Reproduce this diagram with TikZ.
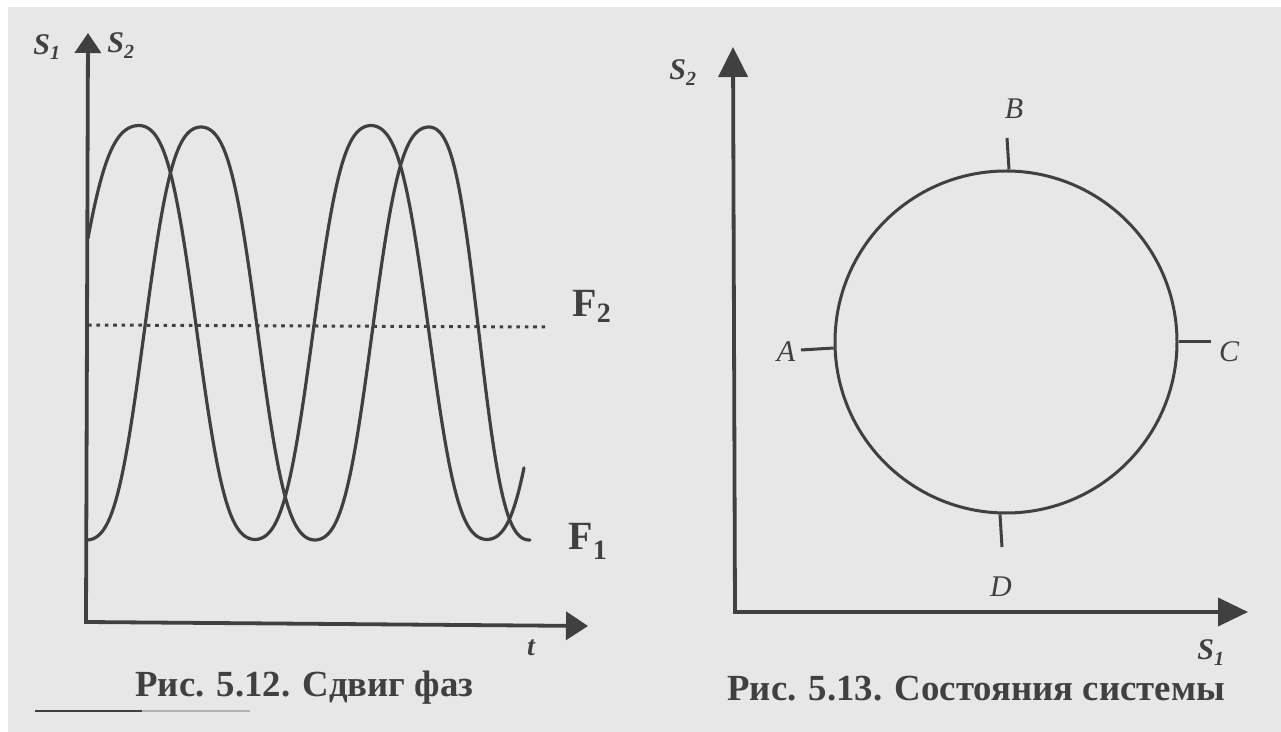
\documentclass[tikz,border=0pt]{standalone}
\usepackage{fontspec}
\setmainfont{Liberation Serif}
\usetikzlibrary{arrows.meta}
\definecolor{ink}{RGB}{64,64,64}
\definecolor{paper}{RGB}{231,231,231}
\begin{document}
\begin{tikzpicture}[x=0.5pt,y=-0.5pt,
  declare function={wv(\t)=(cos(\t)-0.07*cos(3*\t))/0.93;},
  axis/.style={draw=ink, line width=1.9pt, line join=miter},
  curve/.style={draw=ink, line width=1.6pt, line join=round, line cap=round},
  tick/.style={draw=ink, line width=1.5pt},
  lbl/.style={inner sep=0pt, text=ink},
  capt/.style={lbl, anchor=base west, font=\fontsize{18.4}{22}\selectfont\bfseries},
  flbl/.style={lbl, anchor=base west, font=\fontsize{20}{22}\selectfont\bfseries},
  slbl/.style={lbl, anchor=base west, font=\fontsize{15}{18}\selectfont\bfseries\itshape},
  plbl/.style={lbl, font=\fontsize{15}{18}\selectfont\itshape}]
\useasboundingbox (0,0) rectangle (1281,732);
\fill[white] (0,0) rectangle (1281,732);
\fill[paper] (8,7) rectangle (1281,732);

% ---------- left figure: phase shift ----------
\coordinate (O1) at (86,622);
\coordinate (Y1) at (88,33);
\coordinate (X1) at (588,626);
\draw[axis, {Triangle[length=10pt,width=13pt]}-{Triangle[length=11pt,width=14pt]}] (Y1) -- (O1) -- (X1);

\coordinate (L1) at (88,325);
\coordinate (L2) at (545,327);
\draw[ink, line width=1.5pt, dash pattern=on 1.8pt off 2.4pt] (L1) -- (L2);

% curve 1
\draw[curve] plot[domain=88:139, samples=40] (\x, {332.5-207*wv(1.35*(\x-139))})
  -- plot[domain=139:524, samples=200] (\x, {332.5-207*wv((\x-139)/232*360)});
% curve 2
\draw[curve] plot[domain=88:429, samples=200] (\x, {333.5+206.5*wv((\x-87)/228*360)})
  -- plot[domain=429:530, samples=60] (\x, {333.5+206.5*wv(540+(\x-429)/100*180)});

\node[slbl] (S1a) at (33,55) {S\raisebox{-2.5pt}{\fontsize{10}{10}\selectfont 1}};
\node[slbl] (S2a) at (107,53) {S\raisebox{-3pt}{\fontsize{10}{10}\selectfont 2}};
\node[flbl] (F2) at (572,317) {F\raisebox{-3pt}{\fontsize{14}{14}\selectfont 2}};
\node[flbl] (F1) at (568,550) {F\raisebox{-5pt}{\fontsize{14}{14}\selectfont 1}};
\node[lbl, font=\fontsize{14}{16}\selectfont\bfseries\itshape] (T) at (531,648) {t};

\node[capt] (cap1) at (135,697) {Рис. 5.12. Сдвиг фаз};
\coordinate (U1) at (35,711);
\coordinate (U2) at (142,711);
\coordinate (U3) at (250,711);
\draw[ink, line width=1pt] (U1) -- (U2);
\draw[ink!40, line width=1pt] (U2) -- (U3);

% ---------- right figure: system states ----------
\coordinate (O2) at (735,612);
\coordinate (Y2) at (733,47);
\coordinate (X2) at (1248,612);
\draw[axis, {Triangle[length=15pt,width=14.5pt]}-{Triangle[length=15pt,width=14pt]}] (Y2) -- (O2) -- (X2);

\node[draw=ink, line width=1.5pt, circle, minimum size=171pt, inner sep=0pt] (ring) at (1006,342) {};
\coordinate (tA) at (801,350);
\coordinate (tC) at (1211,342);
\coordinate (tB) at (1007,138);
\coordinate (tD) at (1002,547);
\draw[tick] (ring.182.7) -- (tA);
\draw[tick] (ring.0) -- (tC);
\draw[tick] (ring.89.7) -- (tB);
\draw[tick] (ring.268.7) -- (tD);

\node[plbl] (A) at (786,352) {A};
\node[plbl] (B) at (1014,109) {B};
\node[plbl] (C) at (1229,352) {C};
\node[plbl] (D) at (1001,587) {D};

\node[slbl] (S2b) at (669,80) {S\raisebox{-3pt}{\fontsize{10}{10}\selectfont 2}};
\node[slbl] (S1b) at (1197,660) {S\raisebox{-3pt}{\fontsize{10}{10}\selectfont 1}};

\node[capt] (cap2) at (727,700) {Рис. 5.13. Состояния системы};
\end{tikzpicture}
\end{document}
